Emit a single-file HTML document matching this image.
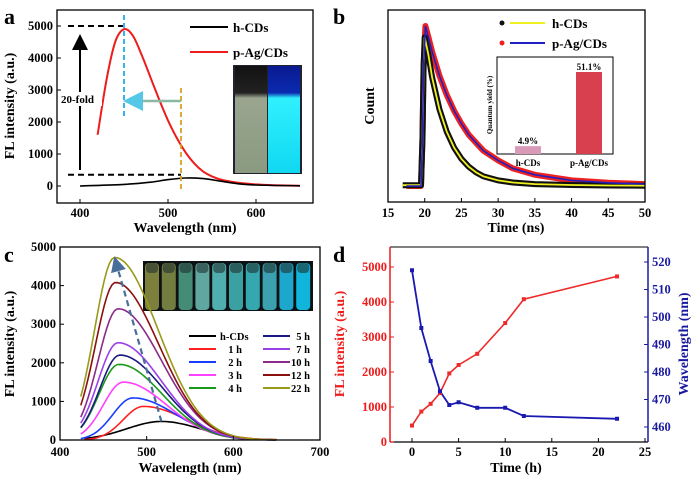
<!DOCTYPE html>
<html><head><meta charset="utf-8"><style>
body{margin:0;background:#fff;}
svg{display:block;font-family:"Liberation Serif",serif;font-weight:bold;}
</style></head><body>
<svg id="fig" width="700" height="480" viewBox="0 0 700 480" xmlns="http://www.w3.org/2000/svg">
<defs>
<marker id="ah" markerWidth="8" markerHeight="8" refX="6" refY="4" orient="auto"><path d="M0,0 L8,4 L0,8 z" fill="#000"/></marker>
<marker id="ahc" markerWidth="8" markerHeight="8" refX="6" refY="4" orient="auto"><path d="M0,0 L8,4 L0,8 z" fill="#55c8e8"/></marker>
<marker id="ahb" markerWidth="7" markerHeight="7" refX="5" refY="3.5" orient="auto"><path d="M0,0 L7,3.5 L0,7 z" fill="#4a6e9a"/></marker>
<linearGradient id="gv" x1="0" x2="0" y1="0" y2="1"><stop offset="0" stop-color="#111"/><stop offset="0.25" stop-color="#222"/><stop offset="0.3" stop-color="#9aa590"/><stop offset="1" stop-color="#8a9a80"/></linearGradient>
<linearGradient id="gc" x1="0" x2="0" y1="0" y2="1"><stop offset="0" stop-color="#0a1a90"/><stop offset="0.25" stop-color="#0a2ab0"/><stop offset="0.3" stop-color="#30f0ff"/><stop offset="1" stop-color="#10d8f0"/></linearGradient>
</defs>
<g id="root"></g>
</svg>
<script>
// ---------- data ----------
const aRedWl = [420,430,440,450,460,470,480,490,500,510,520,530,540,550,560,580,600,620,650];
const aRedI = [1600,3300,4500,4900,4700,4100,3400,2700,2050,1500,1050,700,450,300,200,100,50,25,10];
const aBlkWl = [400,450,480,500,520,540,560,580,600,650];
const aBlkI = [0,50,120,200,250,230,150,70,30,5];
const aXTicks = [400,500,600];
const aYTicks = [0,1000,2000,3000,4000,5000];

const bTimeH = [17,19.5,19.7,19.85,20.0,20.5,21,22,23,24,25,26,27,28,30,32,35,40,45,50];
const bCountH = [0.005,0.005,0.3,0.75,0.93,0.82,0.68,0.48,0.34,0.24,0.17,0.12,0.085,0.06,0.035,0.022,0.012,0.006,0.003,0.002];
const bTimeP = [17.5,19.5,19.7,19.85,20.1,20.5,21,22,23,24,25,26,27,28,30,32,35,40,45,50];
const bCountP = [0.0,0.0,0.3,0.75,1.0,0.93,0.84,0.69,0.57,0.47,0.39,0.32,0.27,0.22,0.16,0.11,0.07,0.035,0.02,0.012];
const bXTicks = [15,20,25,30,35,40,45,50];
const qyCats = ["h-CDs","p-Ag/CDs"];
const qyVals = [4.9,51.1];
const qyLabels = ["4.9%","51.1%"];

const cSeries = ["h-CDs","1 h","2 h","3 h","4 h","5 h","7 h","10 h","12 h","22 h"];
const cPeakI = [480,870,1090,1500,1960,2200,2520,3400,4080,4730];
const cPeakWl = [517,496,484,473,468,469,467,467,464,463];
const cColors = ["#000","#ff2020","#1a3cff","#ff40ff","#1a9a1a","#1a1a80","#9a40e8","#8a2a8a","#8a1010","#9a9a1a"];
const cXTicks = [400,500,600,700];
const cYTicks = [0,1000,2000,3000,4000,5000];

const dTime = [0,1,2,3,4,5,7,10,12,22];
const dInt = [470,870,1090,1400,1960,2200,2520,3400,4080,4730];
const dWl = [517,496,484,473,468,469,467,467,464,463];
const dXTicks = [0,5,10,15,20,25];
const dYTicks = [0,1000,2000,3000,4000,5000];
const dY2Ticks = [460,470,480,490,500,510,520];

// ---------- helpers ----------
const NS="http://www.w3.org/2000/svg";
const root=document.getElementById('root');
function mk(tag,attrs,parent,text){const e=document.createElementNS(NS,tag);for(const k in attrs)e.setAttribute(k,attrs[k]);if(text!==undefined)e.textContent=text;(parent||root).appendChild(e);return e;}
function lin(d0,d1,r0,r1){return v=>r0+(v-d0)*(r1-r0)/(d1-d0);}
function pathD(xs,ys,fx,fy){return xs.map((x,i)=>(i?'L':'M')+fx(x).toFixed(1)+','+fy(ys[i]).toFixed(1)).join(' ');}
function smoothD(xs,ys,fx,fy){const p=xs.map((x,i)=>[fx(x),fy(ys[i])]);let d='M'+p[0][0]+','+p[0][1];for(let i=0;i<p.length-1;i++){const p0=p[i-1]||p[i],p1=p[i],p2=p[i+1],p3=p[i+2]||p2;d+=' C'+(p1[0]+(p2[0]-p0[0])/6).toFixed(1)+','+(p1[1]+(p2[1]-p0[1])/6).toFixed(1)+' '+(p2[0]-(p3[0]-p1[0])/6).toFixed(1)+','+(p2[1]-(p3[1]-p1[1])/6).toFixed(1)+' '+p2[0].toFixed(1)+','+p2[1].toFixed(1);}return d;}
function txt(x,y,s,size,attrs){const a=Object.assign({x:x,y:y,'font-size':size},attrs||{});return mk('text',a,null,s);}

// ================= Panel a =================
{
const g=mk('g',{});


const fx=lin(400,600,80,256), fy=lin(0,5000,186,26);
const L=57,R=313,T=10,B=203;
const ph=mk('g',{},g);


mk('rect',{x:233,y:65,width:69,height:109,fill:'#223'},ph);
mk('rect',{x:235,y:66,width:32,height:107,fill:'url(#gv)'},ph);
mk('rect',{x:268,y:66,width:32,height:107,fill:'url(#gc)'},ph);
const red=mk('path',{d:smoothD(aRedWl,aRedI,fx,fy),fill:'none',stroke:'#ee1c1c','stroke-width':2},g);


const blk=mk('path',{d:smoothD(aBlkWl,aBlkI,fx,fy),fill:'none',stroke:'#000','stroke-width':1.6},g);


mk('line',{x1:68,y1:fy(5000),x2:124,y2:fy(5000),stroke:'#000','stroke-width':2,'stroke-dasharray':'6,4'},g);
mk('line',{x1:68,y1:fy(350),x2:181,y2:fy(350),stroke:'#000','stroke-width':2,'stroke-dasharray':'6,4'},g);
mk('line',{x1:fx(450),y1:15,x2:fx(450),y2:116,stroke:'#3ab0f0','stroke-width':2,'stroke-dasharray':'5,3'},g);
mk('line',{x1:181,y1:88,x2:181,y2:190,stroke:'#d8a020','stroke-width':1.8,'stroke-dasharray':'5,3'},g);
mk('line',{x1:181,y1:101,x2:128,y2:101,stroke:'#8ab8a0','stroke-width':2.5,'marker-end':'url(#ahc)'},g);
mk('line',{x1:80,y1:170,x2:80,y2:38,stroke:'#000','stroke-width':2,'marker-end':'url(#ah)'},g);
mk('rect',{x:60,y:92,width:42,height:14,fill:'#fff'},g);
const fold=txt(61,103,'20-fold',11,{});


mk('rect',{x:L,y:T,width:R-L,height:B-T,fill:'none',stroke:'#000','stroke-width':1.3},g);
aXTicks.forEach(v=>{mk('line',{x1:fx(v),y1:B,x2:fx(v),y2:B-4,stroke:'#000'},g);const t=txt(fx(v),217,String(v),12.5,{'text-anchor':'middle'});});
aYTicks.forEach(v=>{mk('line',{x1:L,y1:fy(v),x2:L+4,y2:fy(v),stroke:'#000'},g);const t=txt(L-4,fy(v)+4,String(v),12.5,{'text-anchor':'end'});});
const xt=txt(185,232,'Wavelength (nm)',14,{'text-anchor':'middle'});

const yt=txt(0,0,'FL intensity (a.u.)',14,{'text-anchor':'middle',transform:'translate(14,106) rotate(-90)'});

mk('line',{x1:190,y1:27,x2:228,y2:27,stroke:'#000','stroke-width':2},g);
const l1=txt(233,32,'h-CDs',13,{});
mk('line',{x1:190,y1:52,x2:228,y2:52,stroke:'#ee1c1c','stroke-width':2},g);
const l2=txt(233,57,'p-Ag/CDs',13,{});
const la=txt(4,24,'a',22,{});
}

// ================= Panel b =================
{
const g=mk('g',{});


const fx=lin(15,50,388,645), fy=lin(0,1,186,26);
const L=388,R=645,T=10,B=202;
const pr=mk('path',{d:pathD(bTimeP,bCountP,fx,fy),fill:'none',stroke:'#ee2020','stroke-width':6,'stroke-linejoin':'round'},g);

const ph=mk('path',{d:pathD(bTimeH,bCountH,fx,fy),fill:'none',stroke:'#111','stroke-width':6,'stroke-linejoin':'round'},g);

const fh=mk('path',{d:pathD(bTimeH,bCountH,fx,fy),fill:'none',stroke:'#f0f020','stroke-width':1.8},g);

const fp=mk('path',{d:pathD(bTimeP,bCountP,fx,fy),fill:'none',stroke:'#2020c0','stroke-width':1.6},g);

mk('rect',{x:L,y:T,width:R-L,height:B-T,fill:'none',stroke:'#000','stroke-width':1.3},g);
bXTicks.forEach(v=>{mk('line',{x1:fx(v),y1:B,x2:fx(v),y2:B-4,stroke:'#000'},g);const t=txt(fx(v),217,String(v),12.5,{'text-anchor':'middle'});});
const xt=txt(516,232,'Time (ns)',14,{'text-anchor':'middle'});
const yt=txt(0,0,'Count',14,{'text-anchor':'middle',transform:'translate(374,106) rotate(-90)'});
mk('circle',{cx:502,cy:23,r:2.5,fill:'#111'},g);
mk('line',{x1:510,y1:23,x2:545,y2:23,stroke:'#f0f020','stroke-width':2},g);
const l1=txt(552,28,'h-CDs',13,{});
mk('circle',{cx:502,cy:43,r:2.5,fill:'#ee2020'},g);
mk('line',{x1:510,y1:43,x2:545,y2:43,stroke:'#2020c0','stroke-width':2},g);
const l2=txt(552,48,'p-Ag/CDs',13,{});
const ins=mk('g',{},g);
const iL=497,iR=613,iT=57,iB=154;const qy=lin(0,51.1,iB,72);
mk('rect',{x:iL,y:iT,width:iR-iL,height:iB-iT,fill:'#fff',stroke:'#000','stroke-width':1},ins);
const bxs=[528,589],bcol=['#d89ab8','#d84050'];
qyVals.forEach((v,i)=>{const r=mk('rect',{x:bxs[i]-13,y:qy(v),width:26,height:iB-qy(v),fill:bcol[i]},ins);
const t=txt(bxs[i],qy(v)-2,qyLabels[i],9,{'text-anchor':'middle'});
const c=txt(bxs[i],166,qyCats[i],9,{'text-anchor':'middle'});});
const it=txt(0,0,'Quantum yield (%)',7,{'text-anchor':'middle',transform:'translate(492,105) rotate(-90)'});
const lb=txt(333,24,'b',22,{});
}

// ================= Panel c =================
{
const g=mk('g',{});


const fx=lin(400,700,60,320), fy=lin(0,5000,440,247);
const L=60,R=320,T=247,B=440;
const ph=mk('g',{},g);
mk('rect',{x:143,y:261,width:170,height:50,fill:'#0e1214'},ph);
const vc=['#8a8c40','#7e8a44','#4a9a80','#6ab8b0','#58c0c0','#40b0b0','#38b8c0','#40b0c0','#20b8e0','#10c8f0'];
vc.forEach((c,i)=>{mk('rect',{x:145+i*16.8,y:263,width:14,height:47,rx:4,fill:c,opacity:0.9},ph);mk('rect',{x:146+i*16.8,y:263,width:12,height:10,rx:4,fill:'#203030',opacity:0.6},ph);});
cSeries.forEach((name,i)=>{const xs=[],ys=[];const start=i===0?428:(i===1?428:424);
for(let w=start;w<=650;w+=3){xs.push(w);const d=w-cPeakWl[i];const s=d<0?(i===0?40:23):(i===0?45:50);ys.push(cPeakI[i]*Math.exp(-d*d/(2*s*s)));}
const p=mk('path',{d:pathD(xs,ys,fx,fy),fill:'none',stroke:cColors[i],'stroke-width':1.6},g);

});
mk('line',{x1:fx(517),y1:fy(480),x2:fx(464),y2:fy(4650),stroke:'#4a6e9a','stroke-width':2.2,'stroke-dasharray':'6,4','marker-end':'url(#ahb)'},g);
mk('rect',{x:L,y:T,width:R-L,height:B-T,fill:'none',stroke:'#000','stroke-width':1.3},g);
cXTicks.forEach(v=>{mk('line',{x1:fx(v),y1:B,x2:fx(v),y2:B-4,stroke:'#000'},g);const t=txt(fx(v),456,String(v),12.5,{'text-anchor':'middle'});});
cYTicks.forEach(v=>{mk('line',{x1:L,y1:fy(v),x2:L+4,y2:fy(v),stroke:'#000'},g);const t=txt(L-4,fy(v)+4,String(v),12.5,{'text-anchor':'end'});});
const xt=txt(190,472,'Wavelength (nm)',14,{'text-anchor':'middle'});
const yt=txt(0,0,'FL intensity (a.u.)',14,{'text-anchor':'middle',transform:'translate(14,344) rotate(-90)'});
const order=[[0,5],[1,6],[2,7],[3,8],[4,9]];
const ry=[336,349,362,375,388];
order.forEach((pr,r)=>{pr.forEach((si,c)=>{const x0=c===0?189:263;
mk('line',{x1:x0,y1:ry[r],x2:x0+27,y2:ry[r],stroke:cColors[si],'stroke-width':2},g);
const t=txt(c===0?(si===0?220:242):310,ry[r]+4,cSeries[si],10.5,{'text-anchor':si===0?'start':'end'});
});});
const lc=txt(4,262,'c',22,{});
}

// ================= Panel d =================
{
const g=mk('g',{});


const fx=lin(0,25,412,645), fy=lin(0,5000,442,267), fy2=lin(460,520,427,262);
const L=390,R=648,T=247,B=442;
mk('line',{x1:L,y1:T,x2:R,y2:T,stroke:'#000'},g);
mk('line',{x1:L,y1:B,x2:R,y2:B,stroke:'#000','stroke-width':1.3},g);
mk('line',{x1:L,y1:T,x2:L,y2:B,stroke:'#ee1c1c','stroke-width':1.5},g);
mk('line',{x1:R,y1:T,x2:R,y2:B,stroke:'#1a1aa0','stroke-width':1.5},g);
const li=mk('path',{d:pathD(dTime,dInt,fx,fy),fill:'none',stroke:'#ee2a2a','stroke-width':1.6},g);

const lw=mk('path',{d:pathD(dTime,dWl,fx,fy2),fill:'none',stroke:'#1a1ab0','stroke-width':1.8},g);

dTime.forEach((t,i)=>{const a=mk('rect',{x:fx(t)-2,y:fy(dInt[i])-2,width:4,height:4,fill:'#ee2a2a'},g);
const b=mk('rect',{x:fx(t)-2,y:fy2(dWl[i])-2,width:4,height:4,fill:'#1a1ab0'},g);});
dXTicks.forEach(v=>{mk('line',{x1:fx(v),y1:B,x2:fx(v),y2:B-4,stroke:'#000'},g);const t=txt(fx(v),456,String(v),12.5,{'text-anchor':'middle'});});
dYTicks.forEach(v=>{mk('line',{x1:L,y1:fy(v),x2:L+4,y2:fy(v),stroke:'#ee1c1c'},g);const t=txt(L-3,fy(v)+4,String(v),12.5,{'text-anchor':'end',fill:'#ee1c1c'});});
dY2Ticks.forEach(v=>{mk('line',{x1:R,y1:fy2(v),x2:R-4,y2:fy2(v),stroke:'#1a1aa0'},g);const t=txt(R+4,fy2(v)+4,String(v),12.5,{fill:'#1a1aa0'});});
const xt=txt(516,472,'Time (h)',14,{'text-anchor':'middle'});
const yt=txt(0,0,'FL intensity (a.u.)',14,{'text-anchor':'middle',fill:'#ee1c1c',transform:'translate(344,344) rotate(-90)'});
const y2=txt(0,0,'Wavelength (nm)',14,{'text-anchor':'middle',fill:'#1a1aa0',transform:'translate(688,344) rotate(-90)'});
const ld=txt(333,262,'d',22,{});
}
</script>
</body></html>
